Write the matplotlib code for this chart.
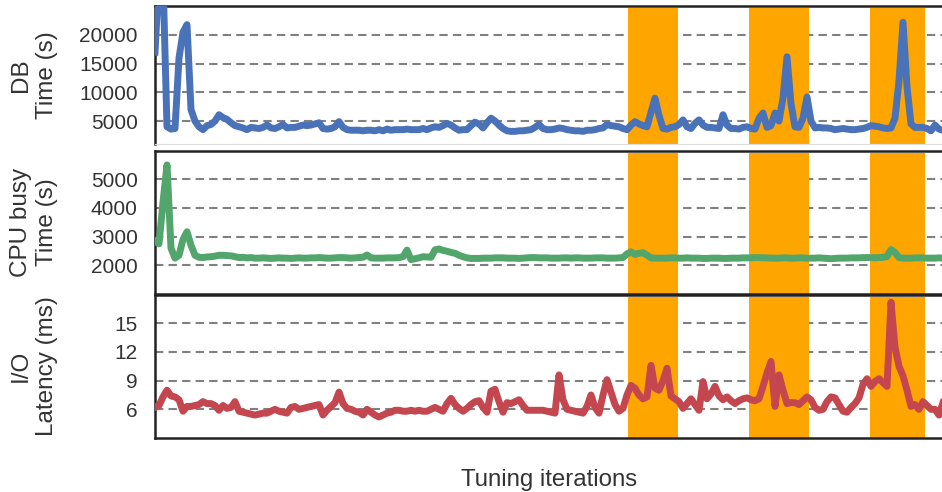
import matplotlib
matplotlib.use("Agg")
import matplotlib.pyplot as plt
import numpy as np

plt.rcParams['font.family'] = ['Liberation Sans', 'DejaVu Sans']

db_time = [17000, 30000, 30000, 4000, 3600, 3700, 16000, 20500, 21800, 7000,
           5000, 4000, 3500, 4200, 4400, 5000, 6100, 5600, 5300, 4700,
           4200, 4000, 3800, 3500, 3900, 3800, 3700, 3900, 4300, 3800,
           3700, 4000, 4400, 3800, 3900, 3900, 4100, 4300, 4200, 4300,
           4500, 4700, 3700, 3600, 3700, 4000, 4900, 3900, 3500, 3400,
           3400, 3400, 3300, 3400, 3400, 3300, 3500, 3300, 3600, 3400,
           3500, 3500, 3500, 3600, 3500, 3500, 3500, 3700, 3500, 3800,
           4000, 3900, 4200, 4600, 4300, 3800, 3400, 3500, 3500, 4200,
           4800, 4500, 3800, 4700, 5500, 5000, 4300, 3700, 3300, 3200,
           3200, 3300, 3300, 3400, 3500, 3900, 4400, 3700, 3500, 3500,
           3600, 3800, 3700, 3500, 3400, 3300, 3300, 3200, 3400, 3400,
           3500, 3700, 3800, 4400, 4200, 4100, 4000, 3700, 3500, 4300,
           4900, 4500, 4200, 4000, 6500, 9000, 6000, 3700, 3600, 3900,
           4000, 4400, 5200, 4000, 3700, 4600, 5200, 4300, 3900, 3900,
           3800, 3700, 6100, 4300, 3700, 3700, 3600, 3900, 4000, 3700,
           3600, 5500, 6400, 3900, 4200, 6400, 5000, 9000, 16200, 8000,
           4000, 3900, 5500, 9200, 5000, 3800, 3900, 3800, 3800, 3700,
           3500, 3600, 3700, 3600, 3500, 3500, 3600, 3700, 3900, 4200,
           4100, 4000, 3800, 3700, 3800, 5500, 12000, 22200, 11000, 4500,
           3900, 3900, 3900, 3700, 3300, 4300, 3600, 3400, 3500, 3600, 3800]

cpu_time = [2850, 2750, 4200, 5500, 2600, 2250, 2350, 2900, 3170, 2700,
            2350, 2280, 2270, 2290, 2300, 2320, 2350, 2350, 2340, 2330,
            2300, 2270, 2280, 2260, 2270, 2250, 2250, 2260, 2250, 2240,
            2250, 2260, 2250, 2250, 2240, 2250, 2260, 2250, 2250, 2260,
            2260, 2270, 2260, 2250, 2250, 2260, 2270, 2270, 2260, 2250,
            2260, 2270, 2280, 2360, 2260, 2250, 2250, 2250, 2260, 2260,
            2260, 2270, 2300, 2530, 2200, 2230, 2260, 2300, 2290, 2280,
            2540, 2570, 2520, 2490, 2450, 2420, 2350, 2300, 2260, 2240,
            2240, 2240, 2250, 2250, 2250, 2260, 2260, 2260, 2250, 2250,
            2250, 2240, 2250, 2260, 2270, 2270, 2260, 2260, 2260, 2250,
            2250, 2250, 2260, 2260, 2250, 2260, 2260, 2250, 2250, 2250,
            2260, 2260, 2260, 2250, 2250, 2250, 2260, 2270, 2400, 2470,
            2380, 2420, 2440, 2350, 2260, 2250, 2250, 2250, 2250, 2260,
            2260, 2250, 2250, 2260, 2250, 2250, 2250, 2240, 2240, 2250,
            2250, 2250, 2240, 2240, 2250, 2250, 2250, 2260, 2260, 2260,
            2270, 2270, 2260, 2260, 2250, 2250, 2250, 2260, 2260, 2250,
            2250, 2260, 2260, 2250, 2250, 2250, 2260, 2250, 2240, 2230,
            2240, 2250, 2250, 2250, 2260, 2260, 2260, 2270, 2270, 2270,
            2260, 2270, 2280, 2300, 2550, 2450, 2270, 2250, 2250, 2250,
            2260, 2260, 2260, 2250, 2250, 2250, 2260, 2250, 2250, 2250, 2250]

io_latency = [6.2, 6.4, 7.3, 8.0, 7.4, 7.3, 7.0, 5.8, 6.3, 6.3,
              6.4, 6.5, 6.8, 6.6, 6.6, 6.4, 5.9, 6.4, 6.1, 6.2,
              6.8, 5.8, 5.7, 5.6, 5.5, 5.4, 5.5, 5.6, 5.6, 5.8,
              6.0, 5.8, 5.7, 5.6, 6.2, 6.3, 6.0, 6.1, 6.2, 6.3,
              6.4, 6.5, 5.4, 5.9, 6.3, 6.7, 7.8, 6.6, 6.1, 6.0,
              5.8, 5.7, 5.4, 6.0, 5.7, 5.4, 5.2, 5.4, 5.6, 5.7,
              5.9, 5.9, 5.8, 5.8, 5.9, 5.8, 5.9, 5.8, 5.8, 6.0,
              6.2, 6.0, 5.8, 6.6, 7.15, 6.5, 6.1, 5.8, 6.1, 6.5,
              6.8, 6.9, 6.2, 5.7, 7.9, 8.1, 6.8, 5.7, 6.7, 6.6,
              6.8, 7.0, 6.4, 5.9, 5.9, 5.9, 5.9, 5.9, 5.8, 5.7,
              5.6, 9.6, 7.0, 6.0, 5.9, 5.8, 5.7, 5.6, 6.3, 7.5,
              6.2, 5.6, 7.5, 9.1, 7.8, 6.5, 5.8, 6.1, 7.5, 8.5,
              8.2, 7.5, 7.1, 7.3, 10.6, 8.2, 8.0, 9.0, 10.3, 7.4,
              7.1, 6.8, 6.1, 6.6, 7.1, 6.5, 5.9, 8.9, 7.1, 7.6,
              8.4, 7.4, 7.0, 7.3, 6.9, 6.6, 6.9, 7.1, 7.2, 7.0,
              6.9, 7.1, 8.4, 9.8, 11.0, 6.3, 9.6, 8.0, 6.6, 6.7,
              6.7, 6.5, 6.9, 7.3, 7.0, 6.2, 5.9, 6.0, 6.8, 7.3,
              7.2, 6.5, 5.8, 5.7, 6.2, 6.6, 7.2, 8.6, 9.2, 8.4,
              8.9, 9.2, 8.8, 8.4, 17.2, 12.5, 10.5, 9.5, 8.0, 6.3,
              6.5, 6.0, 6.8, 6.4, 6.0, 6.0, 5.4, 6.7, 6.5, 6.3, 6.4]

tuning_windows = [(118.2, 130.8), (148.5, 163.5), (178.8, 192.5)]

db_ticks = [5000, 10000, 15000, 20000]
cpu_ticks = [2000, 3000, 4000, 5000]
io_ticks = [6, 9, 12, 15]

W, H = 942, 492
fig = plt.figure(figsize=(W / 100, H / 100), dpi=100)

left = 155 / W
width = 800 / W

def rect(top_px, bot_px):
    return [left, 1 - bot_px / H, width, (bot_px - top_px) / H]

ax1 = fig.add_axes(rect(6.3, 144))
ax2 = fig.add_axes(rect(150.6, 294))
ax3 = fig.add_axes(rect(294.6, 438))

panels = [
    (ax1, db_time, '#4a72b8', (1000, 25000), db_ticks, 'DB\nTime (s)'),
    (ax2, cpu_time, '#52a56b', (1000, 6000), cpu_ticks, 'CPU busy\nTime (s)'),
    (ax3, io_latency, '#c4474f', (3, 18), io_ticks, 'I/O\nLatency (ms)'),
]

for ax, data, color, ylim, ticks, label in panels:
    x = np.arange(len(data))
    ax.set_xlim(0, 200)
    ax.set_ylim(*ylim)
    for a, b in tuning_windows:
        ax.axvspan(a, b, ymin=0.0, ymax=0.985, color='#ffa500', lw=0, zorder=1)
    ax.set_yticks(ticks)
    ax.yaxis.grid(True, linestyle=(0, (4, 2.5)), color='#808080', lw=1.5, zorder=0)
    ax.set_axisbelow(True)
    ax.plot(x, data, color=color, lw=5, solid_joinstyle='round', zorder=3)
    ax.set_xticks([])
    ax.tick_params(axis='y', length=0, pad=12.5, labelsize=15, labelcolor='#333333')
    for s in ax.spines.values():
        s.set_linewidth(1.8)
        s.set_color('#222222')
    ax.set_ylabel(label, fontsize=17.5, color='#333333', linespacing=1.25)
    ax.yaxis.set_label_coords(-0.121, 0.5)

ax1.spines['bottom'].set_color('#dddddd')
ax1.spines['bottom'].set_linewidth(0.8)

fig.text(549 / W, 1 - 480 / H, 'Tuning iterations', ha='center', va='center',
         fontsize=17.3, color='#333333')

fig.savefig('out.png', dpi=100)
